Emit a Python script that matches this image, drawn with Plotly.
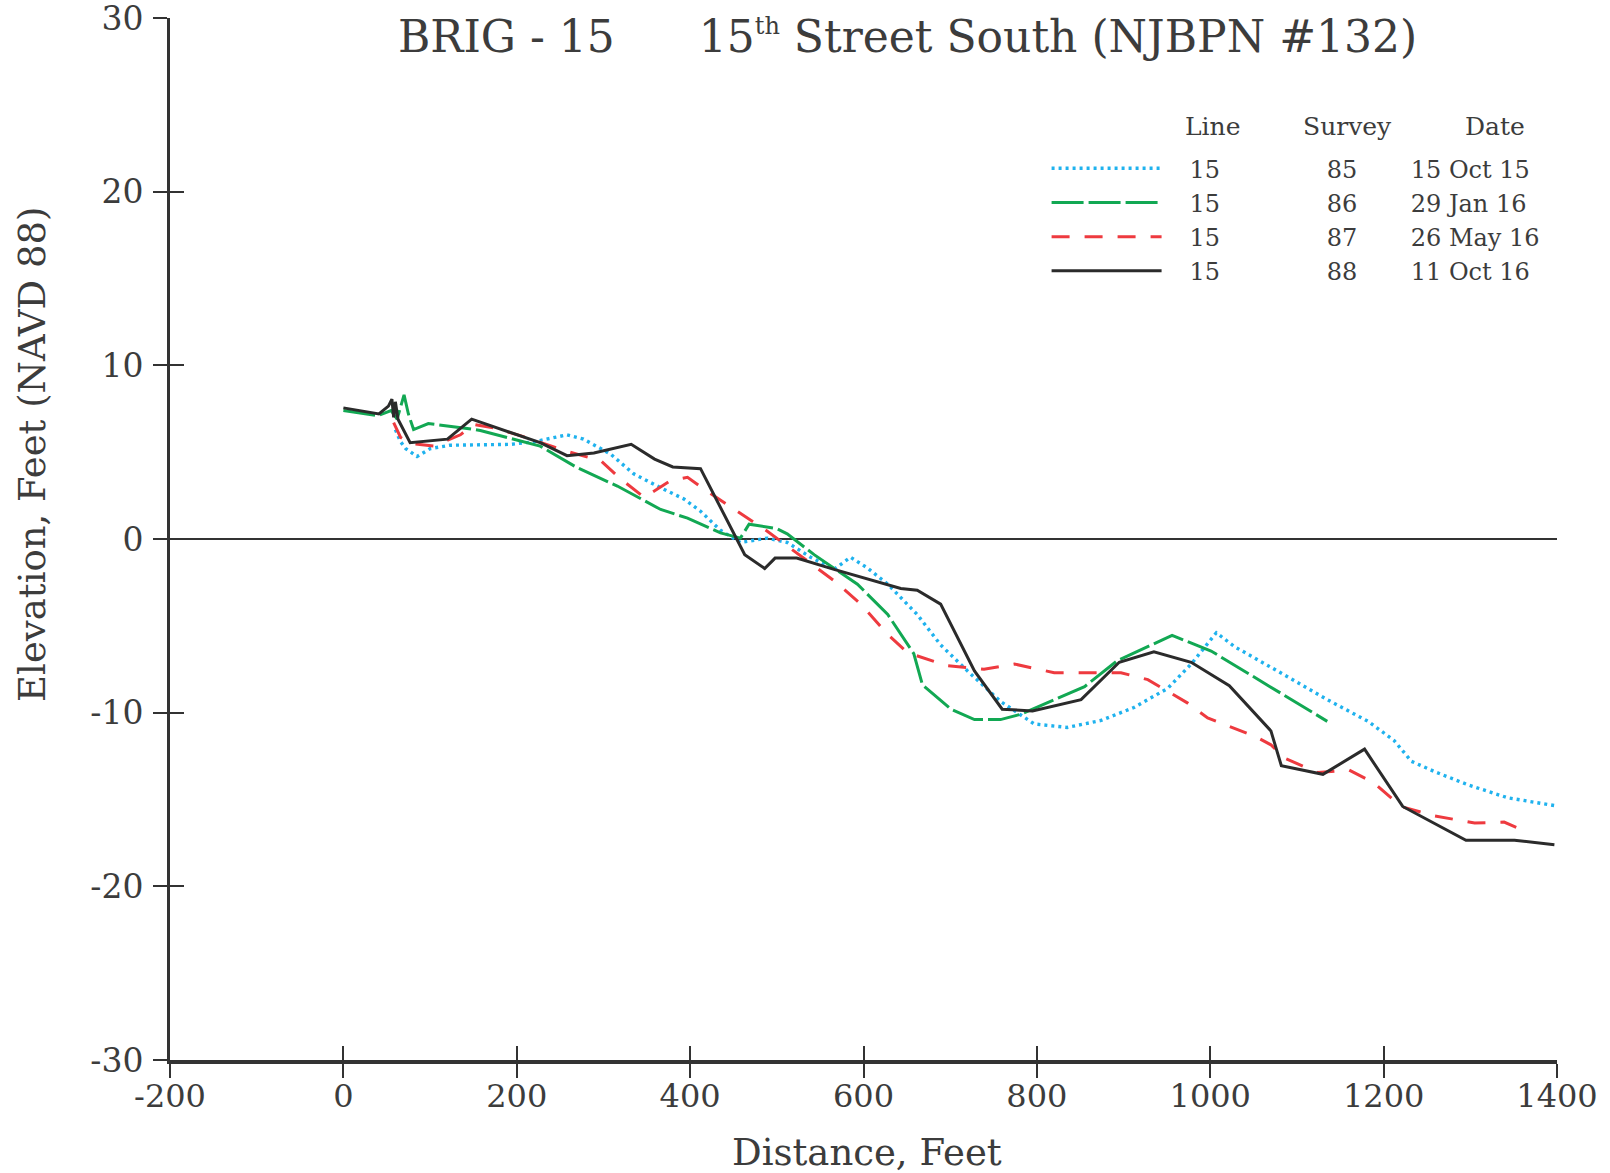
import plotly.graph_objects as go

# ---- data ----
x_85 = [60, 66, 72, 85, 100, 123, 193, 220, 258, 277, 308, 335, 366, 393, 412, 435, 458, 489, 512, 539,
        566, 585, 604, 628, 662, 689, 720, 758, 797, 835, 874, 912, 951, 978, 1007, 1028, 1074, 1135, 1182, 1212,
        1232, 1259, 1297, 1343, 1397]
y_85 = [6.3, 5.6, 5.2, 4.75, 5.2, 5.4, 5.45, 5.6, 6.0, 5.75, 4.9, 3.75, 2.95, 2.3, 1.6, 0.5, -0.2, 0.05, -0.2, -1.05,
        -1.75, -1.05, -1.65, -2.6, -4.35, -6.1, -7.6, -9.35, -10.65, -10.85, -10.45, -9.7, -8.6, -7.2, -5.4, -6.2, -7.5, -9.25, -10.5, -11.6,
        -12.8, -13.4, -14.15, -14.9, -15.35]

x_86 = [0, 40, 55, 62, 70, 75, 81, 98, 145, 158, 227, 270, 316, 347, 366, 397, 435, 458, 468, 500,
        512, 543, 593, 628, 658, 668, 701, 728, 758, 781, 855, 893, 956, 1001, 1135]
y_86 = [7.4, 7.1, 7.4, 6.9, 8.3, 7.2, 6.3, 6.65, 6.35, 6.25, 5.35, 4.1, 3.05, 2.2, 1.7, 1.2, 0.35, 0.05, 0.85, 0.6,
        0.3, -0.9, -2.6, -4.35, -6.6, -8.4, -9.8, -10.4, -10.4, -10.1, -8.5, -7.0, -5.55, -6.45, -10.5]

x_87 = [58, 66, 77, 104, 135, 150, 174, 204, 258, 297, 320, 347, 377, 397, 424, 462, 489, 520, 566, 597,
        628, 651, 697, 739, 774, 820, 897, 928, 974, 997, 1051, 1070, 1085, 1124, 1160, 1189, 1220, 1259, 1305, 1339, 1353]
y_87 = [6.7, 5.85, 5.5, 5.35, 6.0, 6.6, 6.4, 5.95, 5.05, 4.5, 3.45, 2.4, 3.35, 3.55, 2.6, 1.35, 0.45, -0.7, -2.4, -3.75,
        -5.5, -6.55, -7.3, -7.5, -7.2, -7.7, -7.7, -8.1, -9.45, -10.3, -11.35, -11.85, -12.6, -13.45, -13.3, -14.05, -15.4, -15.95, -16.35, -16.3, -16.6]

x_88 = [0, 41, 52, 56, 58, 60, 63, 77, 120, 148, 227, 258, 289, 332, 359, 380, 412, 463, 486, 498,
        523, 566, 643, 662, 689, 728, 760, 795, 851, 895, 935, 978, 1022, 1070, 1082, 1130, 1178, 1222, 1295, 1351, 1397]
y_88 = [7.55, 7.2, 7.65, 8.05, 7.0, 7.9, 6.9, 5.55, 5.75, 6.9, 5.55, 4.8, 4.95, 5.45, 4.6, 4.15, 4.05, -0.9, -1.7, -1.1,
        -1.1, -1.75, -2.85, -2.95, -3.75, -7.6, -9.8, -9.9, -9.25, -7.1, -6.5, -7.1, -8.45, -11.05, -13.05, -13.55, -12.1, -15.4, -17.35, -17.35, -17.6]

line_ids = ["15", "15", "15", "15"]
surveys = ["85", "86", "87", "88"]
dates = ["15 Oct 15", "29 Jan 16", "26 May 16", "11 Oct 16"]

x_ticks = [-200, 0, 200, 400, 600, 800, 1000, 1200, 1400]
y_ticks = [-30, -20, -10, 0, 10, 20, 30]

title_left = "BRIG - 15"
title_right = "15<sup><span style='font-size:24px'>th</span></sup> Street South (NJBPN #132)"
x_title = "Distance, Feet"
y_title = "Elevation, Feet (NAVD 88)"
header = ["Line", "Survey", "Date"]

# ---- styles ----
FONT = "DejaVu Serif"
TXT = "#3c3c3c"
AX = "#333333"
series = [
    (x_85, y_85, "#1fb2ee", "3px,4px", 3.4),
    (x_86, y_86, "#12a853", "32px,5px", 3.0),
    (x_87, y_87, "#ee3a3f", "18px,15px", 3.0),
    (x_88, y_88, "#2b2b2b", "solid", 3.0),
]

NB = "\u00a0"
fig = go.Figure()
for i, (xs, ys, col, dash, lw) in enumerate(series):
    name = NB * 3 + line_ids[i] + NB * 14 + surveys[i] + NB * 7 + dates[i]
    fig.add_trace(go.Scatter(x=xs, y=ys, mode="lines", name=name,
                             line=dict(color=col, width=lw, dash=dash)))

# invisible trace for the overlay axes (inside ticks => crossing ticks)
fig.add_trace(go.Scatter(x=[None], y=[None], xaxis="x2", yaxis="y2",
                         showlegend=False, hoverinfo="skip"))

tickfont_x = dict(family=FONT, size=32, color=TXT)
tickfont_y = dict(family=FONT, size=33, color=TXT)

fig.update_layout(
    width=1610, height=1173,
    paper_bgcolor="white", plot_bgcolor="white",
    margin=dict(l=170, r=53, t=18, b=113, autoexpand=False),
    showlegend=True,
    legend=dict(x=0.632, y=0.877, xanchor="left", yanchor="top",
                font=dict(family=FONT, size=24, color=TXT),
                itemwidth=110, bgcolor="rgba(0,0,0,0)", borderwidth=0,
                tracegroupgap=0),
    xaxis=dict(range=[-200, 1400], tickvals=x_ticks, ticktext=[str(v) for v in x_ticks],
               showgrid=False, zeroline=False, showline=True, linecolor=AX, linewidth=4,
               ticks="outside", ticklen=14, tickwidth=1.5, tickcolor=AX, automargin=False,
               tickfont=tickfont_x, ticklabelstandoff=-9, ticklabeloverflow="allow"),
    yaxis=dict(range=[-30, 30], tickvals=y_ticks, ticktext=[str(v) for v in y_ticks],
               showgrid=False, zeroline=True, zerolinecolor=AX, zerolinewidth=2,
               showline=True, linecolor=AX, linewidth=3, automargin=False,
               ticks="outside", ticklen=14, tickwidth=1.5, tickcolor=AX,
               tickfont=tickfont_y, ticklabelstandoff=3,
               ticklabeloverflow="allow"),
    xaxis2=dict(range=[-200, 1400], tickvals=x_ticks, overlaying="x", anchor="y2",
                showgrid=False, zeroline=False, showline=False, showticklabels=False,
                automargin=False,
                ticks="inside", ticklen=14, tickwidth=1.5, tickcolor=AX, side="bottom"),
    yaxis2=dict(range=[-30, 30], tickvals=y_ticks, overlaying="y", anchor="x2",
                showgrid=False, zeroline=False, showline=False, showticklabels=False,
                automargin=False,
                ticks="inside", ticklen=14, tickwidth=1.5, tickcolor=AX, side="left"),
)

ann = []
ann.append(dict(text=title_left + NB * 6 + title_right, x=0.532, y=0.982, xref="paper", yref="paper",
                xanchor="center", yanchor="middle", showarrow=False,
                font=dict(family=FONT, size=44, color=TXT)))
ann.append(dict(text=x_title, x=0.5025, y=-0.0883, xref="paper", yref="paper",
                xanchor="center", yanchor="middle", showarrow=False,
                font=dict(family=FONT, size=37, color=TXT)))
ann.append(dict(text=y_title, x=-0.0988, y=0.5816, xref="paper", yref="paper",
                xanchor="center", yanchor="middle", showarrow=False, textangle=-90,
                font=dict(family=FONT, size=37, color=TXT)))
for txt, px in zip(header, [0.752, 0.849, 0.955]):
    ann.append(dict(text=txt, x=px, y=0.896, xref="paper", yref="paper",
                    xanchor="center", yanchor="middle", showarrow=False,
                    font=dict(family=FONT, size=25, color=TXT)))
fig.update_layout(annotations=ann)

# remove the default 8px page margin so the figure sits at the window's corner
fig.write_html("out.html", config={"displayModeBar": False},
               post_script="document.body.style.margin='0';")
